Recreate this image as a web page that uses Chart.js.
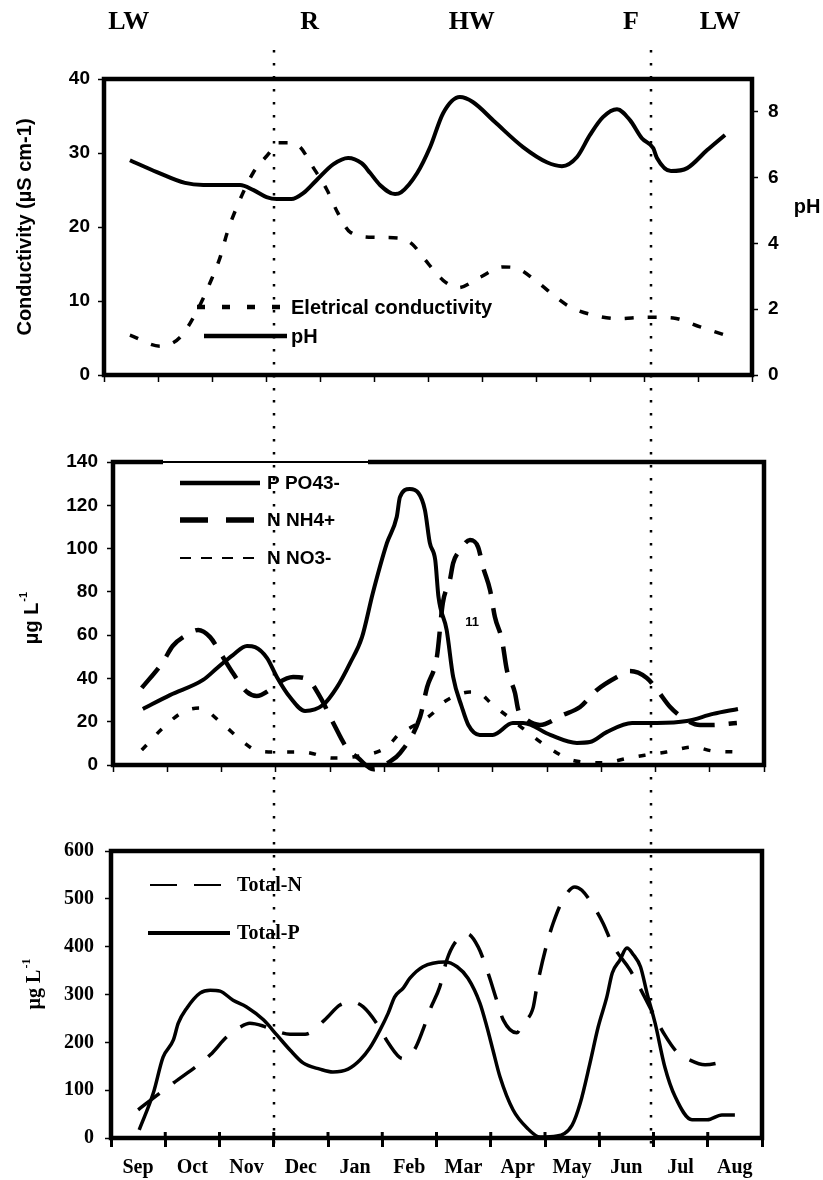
<!DOCTYPE html>
<html>
<head>
<meta charset="utf-8">
<script src="https://cdn.jsdelivr.net/npm/chart.js@4.4.1/dist/chart.umd.min.js"></script>
<style>
  html, body { margin: 0; padding: 0; background: #fff; }
  #wrap { position: relative; width: 823px; height: 1180px; }
  canvas { position: absolute; left: 0; }
</style>
</head>
<body>
<div id="wrap">
  <canvas id="c1" width="823" height="400" style="top:0"></canvas>
  <canvas id="c2" width="823" height="390" style="top:400px"></canvas>
  <canvas id="c3" width="823" height="390" style="top:790px"></canvas>
</div>
<script>
// months, x values are in months from the start of September
const months = ['Sep', 'Oct', 'Nov', 'Dec', 'Jan', 'Feb', 'Mar', 'Apr', 'May', 'Jun', 'Jul', 'Aug'];
const phases = ['LW', 'R', 'HW', 'F', 'LW'];
const phaseAt = [0.46, 3.81, 6.81, 9.76, 11.41];
const seasonBreaks = [3.15, 10.13];

// top panel
const condX = [0.48, 1.04, 1.41, 1.78, 1.96, 2.15, 2.28, 2.46, 2.76, 3.07, 3.2, 3.44, 3.63, 3.87, 4.13, 4.33, 4.56, 5.02, 5.48, 5.72, 5.91, 6.28, 6.56, 6.96, 7.39, 7.61, 8.02, 8.39, 8.63, 9.06, 9.52, 10.02, 10.54, 11.04, 11.5];
const condY = [5.4, 3.9, 5.1, 9.5, 12.4, 15.9, 19.2, 22.7, 27.3, 30.1, 31.4, 31.4, 30.8, 28.1, 25.0, 21.9, 19.3, 18.6, 18.5, 17.6, 15.9, 12.8, 11.8, 13.2, 14.6, 14.5, 12.6, 10.4, 9.2, 8.1, 7.6, 7.8, 7.7, 6.5, 5.4];
const phX = [0.48, 0.98, 1.5, 1.84, 2.52, 2.77, 3.01, 3.2, 3.47, 3.69, 3.94, 4.25, 4.52, 4.77, 4.93, 5.11, 5.39, 5.5, 5.8, 6.04, 6.28, 6.59, 6.83, 7.24, 7.76, 8.2, 8.48, 8.76, 9.0, 9.24, 9.5, 9.74, 9.96, 10.17, 10.24, 10.5, 10.8, 11.17, 11.5];
const phY = [6.53, 6.17, 5.84, 5.78, 5.78, 5.62, 5.41, 5.35, 5.35, 5.53, 5.93, 6.41, 6.6, 6.44, 6.14, 5.78, 5.5, 5.55, 6.14, 6.93, 7.96, 8.45, 8.3, 7.69, 6.93, 6.47, 6.35, 6.63, 7.3, 7.84, 8.08, 7.75, 7.2, 6.9, 6.6, 6.2, 6.29, 6.84, 7.3];

// middle panel
const po4X = [0.55, 1.05, 1.66, 1.92, 2.21, 2.47, 2.62, 2.84, 3.02, 3.26, 3.54, 3.87, 4.13, 4.37, 4.59, 4.79, 5.05, 5.23, 5.29, 5.47, 5.63, 5.75, 5.84, 5.94, 6.0, 6.15, 6.27, 6.43, 6.55, 6.76, 7.0, 7.37, 7.56, 8.06, 8.55, 8.79, 9.1, 9.57, 10.03, 10.58, 11.06, 11.52];
const po4Y = [25.9, 32.3, 39.3, 44.8, 50.8, 55.0, 54.5, 49.4, 40.7, 31.4, 25.0, 27.7, 36.0, 47.1, 59.1, 79.5, 102.6, 114.6, 123.8, 127.5, 125.7, 117.8, 102.6, 94.7, 77.6, 62.4, 40.7, 26.8, 18.5, 13.9, 13.9, 19.4, 19.4, 13.9, 10.2, 10.6, 15.2, 19.4, 19.4, 20.3, 23.6, 25.9];
const nh4X = [0.53, 0.92, 1.1, 1.36, 1.57, 1.79, 1.97, 2.21, 2.47, 2.65, 2.89, 3.04, 3.32, 3.58, 3.82, 4.06, 4.31, 4.52, 4.8, 5.1, 5.29, 5.66, 5.79, 5.97, 6.08, 6.21, 6.27, 6.4, 6.58, 6.73, 6.82, 6.95, 7.04, 7.17, 7.26, 7.41, 7.47, 7.63, 7.87, 8.29, 8.61, 8.92, 9.29, 9.53, 9.84, 10.03, 10.27, 10.51, 10.82, 11.04, 11.5];
const nh4Y = [35.6, 47.6, 55.0, 60.1, 62.4, 59.1, 52.2, 42.5, 33.7, 31.9, 34.7, 37.9, 40.7, 39.7, 31.4, 19.4, 7.9, 3.2, -2.0, 1.5, 5.5, 22.2, 36.0, 49.9, 74.9, 85.5, 93.3, 99.4, 104.0, 100.7, 91.5, 80.9, 68.4, 57.8, 43.9, 33.3, 25.4, 20.8, 18.5, 23.1, 26.8, 34.7, 40.7, 43.4, 40.2, 34.7, 26.8, 21.7, 18.5, 18.5, 19.4];
const no3X = [0.53, 0.92, 1.29, 1.6, 2.0, 2.4, 2.67, 3.04, 3.5, 4.06, 4.5, 5.05, 5.29, 5.47, 5.9, 6.03, 6.34, 6.58, 6.71, 7.0, 7.3, 7.6, 7.96, 8.5, 9.03, 9.47, 9.8, 10.2, 10.7, 11.05, 11.5];
const no3Y = [6.9, 17.1, 24.5, 26.3, 19.4, 10.6, 6.5, 6.0, 6.0, 3.2, 4.0, 8.3, 14.8, 17.1, 24.0, 27.7, 32.3, 33.7, 33.7, 27.7, 22.0, 16.0, 9.2, 2.0, 1.0, 3.0, 4.5, 6.0, 8.3, 6.5, 6.0];
const noteText = '11';
const noteAt = [6.62, 66];

// bottom panel
const tnX = [0.5, 0.9, 1.15, 1.83, 2.13, 2.38, 2.56, 2.81, 2.99, 3.3, 3.58, 3.94, 4.22, 4.46, 4.65, 4.92, 5.11, 5.38, 5.6, 5.75, 5.88, 6.06, 6.19, 6.34, 6.56, 6.77, 6.95, 7.11, 7.23, 7.48, 7.59, 7.78, 7.85, 8.04, 8.15, 8.33, 8.55, 8.68, 8.88, 9.07, 9.25, 9.57, 9.79, 9.99, 10.21, 10.43, 10.67, 10.95, 11.41];
const tnY = [59, 94, 115, 174, 211, 232, 240, 234, 226, 217, 217, 247, 278, 284, 274, 236, 199, 166, 186, 226, 268, 316, 372, 408, 427, 399, 345, 288, 247, 220, 240, 272, 316, 408, 449, 498, 525, 518, 487, 449, 403, 351, 305, 261, 215, 180, 163, 153, 163];
const tpX = [0.52, 0.78, 0.96, 1.15, 1.24, 1.4, 1.64, 1.83, 2.01, 2.25, 2.5, 2.81, 3.06, 3.3, 3.54, 3.85, 4.09, 4.37, 4.59, 4.77, 4.96, 5.11, 5.23, 5.39, 5.51, 5.75, 6.16, 6.38, 6.58, 6.8, 6.93, 7.04, 7.17, 7.41, 7.67, 7.91, 8.22, 8.5, 8.65, 8.83, 8.98, 9.14, 9.24, 9.38, 9.51, 9.63, 9.76, 9.88, 10.03, 10.21, 10.4, 10.71, 10.99, 11.26, 11.5];
const tpY = [17, 94, 169, 205, 240, 272, 303, 309, 307, 288, 274, 247, 215, 184, 157, 144, 138, 144, 163, 188, 226, 261, 295, 314, 334, 358, 368, 358, 334, 282, 232, 184, 128, 59, 21, 2, 4, 27, 73, 157, 232, 295, 345, 372, 397, 383, 358, 303, 240, 148, 86, 38, 38, 48, 48];

const SANS = '"Liberation Sans", Arial, sans-serif';
const SERIF = '"Liberation Serif", "Times New Roman", serif';

const pts = (xs, ys) => xs.map((x, i) => ({ x: x, y: ys[i] }));

function line(label, xs, ys, width, dash, extra) {
  return Object.assign({
    label: label,
    data: pts(xs, ys),
    borderColor: '#000',
    borderWidth: width,
    borderDash: dash,
    borderJoinStyle: 'round',
    pointRadius: 0,
    fill: false,
    cubicInterpolationMode: 'monotone'
  }, extra || {});
}

function xAxis(height, labels) {
  return {
    type: 'linear', min: 0, max: 12,
    afterFit: s => { s.height = height; },
    border: { display: false },
    grid: { drawOnChartArea: false, tickLength: labels ? 9 : 7, tickWidth: labels ? 3 : 1.5, tickColor: '#000' },
    ticks: {
      stepSize: 1, autoSkip: false, maxRotation: 0, display: labels,
      labelOffset: 27, padding: 9, color: '#000',
      font: { family: SERIF, size: 20, weight: 'bold' },
      callback: v => months[v] || ''
    }
  };
}

function yAxis(pos, max, step, width, font, pad) {
  return {
    type: 'linear', position: pos, min: 0, max: max,
    afterFit: s => { s.width = width; },
    afterBuildTicks: s => { s.ticks = s.ticks.filter(t => t.value % step === 0); },
    border: { display: false },
    grid: { drawOnChartArea: false, tickLength: 6, tickWidth: 1.5, tickColor: '#000' },
    ticks: { stepSize: step, color: '#000', padding: pad, font: font }
  };
}

function rotTitle(ctx, x, y, main, sup, font, supFont) {
  ctx.save();
  ctx.translate(x, y);
  ctx.rotate(-Math.PI / 2);
  ctx.font = font;
  const w1 = ctx.measureText(main).width;
  ctx.font = supFont;
  const w2 = sup ? ctx.measureText(sup).width : 0;
  const start = -(w1 + w2) / 2;
  ctx.fillStyle = '#000';
  ctx.textBaseline = 'middle';
  ctx.textAlign = 'left';
  ctx.font = font;
  ctx.fillText(main, start, 0);
  if (sup) {
    ctx.font = supFont;
    ctx.fillText(sup, start + w1 + 1, -8);
  }
  ctx.restore();
}

let topChart = null;

const deco = {
  id: 'deco',
  afterDatasetsDraw(chart, args, o) {
    const { ctx, chartArea: a } = chart;
    ctx.save();
    ctx.strokeStyle = '#000';
    ctx.lineWidth = 4.5;
    ctx.setLineDash([]);
    ctx.strokeRect(a.left, a.top, a.right - a.left, a.bottom - a.top);
    if (o.gap) {
      ctx.fillStyle = '#fff';
      ctx.fillRect(o.gap[0], a.top - 3, o.gap[1] - o.gap[0], 6);
      ctx.lineWidth = 2;
      ctx.beginPath();
      ctx.moveTo(o.gap[0], a.top);
      ctx.lineTo(o.gap[1], a.top);
      ctx.stroke();
    }
    if (o.innerTicks) {
      // tick marks that also cross into the plot, as in the bottom panel
      const xs = chart.scales.x;
      ctx.lineWidth = 3;
      xs.ticks.forEach(t => {
        const x = xs.getPixelForValue(t.value);
        ctx.beginPath();
        ctx.moveTo(x, a.bottom - o.innerTicks);
        ctx.lineTo(x, a.bottom);
        ctx.stroke();
      });
    }
    rotTitle(ctx, o.titleX, (a.top + a.bottom) / 2 + o.titleDy, o.title, o.sup, o.titleFont, o.supFont);
    o.keys.forEach(k => {
      ctx.lineWidth = k.w;
      ctx.setLineDash(k.dash);
      ctx.beginPath();
      ctx.moveTo(k.x1, k.y);
      ctx.lineTo(k.x2, k.y);
      ctx.stroke();
      ctx.setLineDash([]);
      ctx.font = o.keyFont;
      ctx.fillStyle = '#000';
      ctx.textBaseline = 'middle';
      ctx.textAlign = 'left';
      ctx.fillText(chart.data.datasets[k.ds].label, k.tx, k.y + 1);
    });
    if (o.extra) o.extra(chart, ctx);
    ctx.restore();
  },
  afterDraw(chart, args, o) {
    const ctx = chart.ctx;
    const xs = (topChart || chart).scales.x;
    ctx.save();
    ctx.strokeStyle = '#000';
    ctx.lineWidth = 2.5;
    ctx.setLineDash([2.5, 10.5]);
    seasonBreaks.forEach(v => {
      const x = Math.round(xs.getPixelForValue(v));
      ctx.beginPath();
      ctx.moveTo(x, o.lineTop);
      ctx.lineTo(x, o.lineBottom);
      ctx.stroke();
    });
    ctx.restore();
  }
};

const base = {
  responsive: false,
  animation: false,
  events: []
};

const sansTick = { family: SANS, size: 19, weight: 'bold' };

// top panel: conductivity and pH
topChart = new Chart(document.getElementById('c1'), {
  type: 'line',
  data: {
    datasets: [
      line('Eletrical conductivity', condX, condY, 3.5, [9, 14], { yAxisID: 'y' }),
      line('pH', phX, phY, 4, [], { yAxisID: 'y2' })
    ]
  },
  options: Object.assign({}, base, {
    layout: { padding: { top: 79, left: 0, right: 0, bottom: 0 } },
    scales: {
      x: xAxis(25, false),
      y: yAxis('left', 40, 10, 104, sansTick, 8),
      y2: yAxis('right', 9, 2, 71, sansTick, 10)
    },
    plugins: {
      legend: { display: false },
      tooltip: { enabled: false },
      deco: {
        titleX: 25, titleDy: 0,
        title: 'Conductivity (µS cm-1)', sup: '',
        titleFont: 'bold 20px ' + SANS, supFont: 'bold 12px ' + SANS,
        keyFont: 'bold 20px ' + SANS,
        keys: [
          { ds: 0, x1: 197, x2: 290, y: 307, w: 4.5, dash: [8, 17], tx: 291 },
          { ds: 1, x1: 204, x2: 287, y: 336, w: 4.5, dash: [], tx: 291 }
        ],
        lineTop: 50, lineBottom: 400,
        extra: (chart, ctx) => {
          const xs = chart.scales.x;
          ctx.fillStyle = '#000';
          ctx.textAlign = 'center';
          ctx.textBaseline = 'middle';
          ctx.font = 'bold 26px ' + SERIF;
          phases.forEach((p, i) => ctx.fillText(p, xs.getPixelForValue(phaseAt[i]), 22));
          ctx.font = 'bold 20px ' + SANS;
          ctx.fillText('pH', 807, 207);
        }
      }
    }
  }),
  plugins: [deco]
});

// middle panel: dissolved nutrients
new Chart(document.getElementById('c2'), {
  type: 'line',
  data: {
    datasets: [
      line('P PO43-', po4X, po4Y, 4, []),
      line('N NH4+', nh4X, nh4Y, 4.5, [26, 14], { clip: false }),
      line('N NO3-', no3X, no3Y, 3.5, [7, 15])
    ]
  },
  options: Object.assign({}, base, {
    layout: { padding: { top: 62, left: 0, right: 59, bottom: 0 } },
    scales: {
      x: xAxis(25, false),
      y: yAxis('left', 140, 20, 113, sansTick, 9)
    },
    plugins: {
      legend: { display: false },
      tooltip: { enabled: false },
      deco: {
        titleX: 32, titleDy: 5,
        title: 'µg L', sup: '-1',
        titleFont: 'bold 20px ' + SANS, supFont: 'bold 11px ' + SANS,
        keyFont: 'bold 19px ' + SANS,
        gap: [163, 368],
        keys: [
          { ds: 0, x1: 180, x2: 260, y: 83, w: 4.5, dash: [], tx: 267 },
          { ds: 1, x1: 180, x2: 260, y: 120, w: 5.5, dash: [28, 18], tx: 267 },
          { ds: 2, x1: 180, x2: 260, y: 158, w: 2, dash: [11, 10], tx: 267 }
        ],
        lineTop: 0, lineBottom: 390,
        extra: (chart, ctx) => {
          ctx.fillStyle = '#000';
          ctx.font = 'bold 13px ' + SANS;
          ctx.textAlign = 'center';
          ctx.textBaseline = 'middle';
          ctx.fillText(noteText, chart.scales.x.getPixelForValue(noteAt[0]), chart.scales.y.getPixelForValue(noteAt[1]));
        }
      }
    }
  }),
  plugins: [deco]
});

// bottom panel: totals
new Chart(document.getElementById('c3'), {
  type: 'line',
  data: {
    datasets: [
      line('Total-N', tnX, tnY, 3.5, [27, 17]),
      line('Total-P', tpX, tpY, 3.5, [])
    ]
  },
  options: Object.assign({}, base, {
    layout: { padding: { top: 61, left: 0, right: 61, bottom: 0 } },
    scales: {
      x: xAxis(42, true),
      y: yAxis('left', 600, 100, 111, { family: SERIF, size: 20, weight: 'bold' }, 11)
    },
    plugins: {
      legend: { display: false },
      tooltip: { enabled: false },
      deco: {
        titleX: 35, titleDy: -10,
        title: 'µg L', sup: '-1',
        titleFont: 'bold 20px ' + SERIF, supFont: 'bold 12px ' + SERIF,
        keyFont: 'bold 20px ' + SERIF,
        innerTicks: 6,
        keys: [
          { ds: 0, x1: 150, x2: 222, y: 95, w: 2, dash: [27, 17], tx: 237 },
          { ds: 1, x1: 148, x2: 230, y: 143, w: 4, dash: [], tx: 237 }
        ],
        lineTop: 0, lineBottom: 358
      }
    }
  }),
  plugins: [deco]
});
</script>
</body>
</html>
